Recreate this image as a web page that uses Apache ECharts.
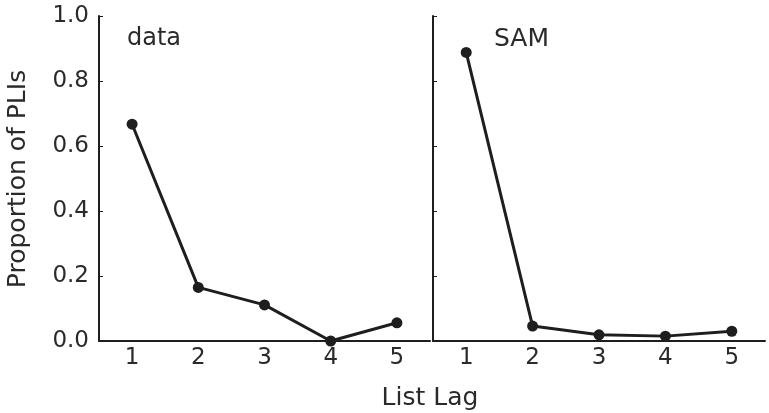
<!DOCTYPE html>
<html>
<head>
<meta charset="utf-8">
<script src="https://cdn.jsdelivr.net/npm/echarts@6/dist/echarts.min.js"></script>
<style>
html,body{margin:0;padding:0;background:#fff;}
#chart{width:769px;height:413px;}
</style>
</head>
<body>
<div id="chart"></div>
<script>
const lags = ['1', '2', '3', '4', '5'];
const dataValues = [0.667, 0.165, 0.111, 0.0, 0.056];
const samValues = [0.888, 0.046, 0.019, 0.015, 0.030];
const yTicks = [0, 0.2, 0.4, 0.6, 0.8, 1.0];
const panelTitles = ['data', 'SAM'];

const FONT = '"DejaVu Sans", "Liberation Sans", Arial, sans-serif';
const INK = '#1e1e1e';
const TXT = '#2a2a2a';

const chart = echarts.init(document.getElementById('chart'), null, {renderer: 'canvas'});

function xAxis(idx) {
  return {
    type: 'category', gridIndex: idx, data: lags, boundaryGap: true,
    axisLine: {lineStyle: {color: INK, width: 2}},
    axisTick: {inside: true, length: 4, alignWithLabel: true, lineStyle: {color: INK, width: 1}},
    axisLabel: {color: TXT, fontSize: 23, fontFamily: FONT, margin: 6},
    splitLine: {show: false}
  };
}
function yAxis(idx, labels) {
  return {
    type: 'value', gridIndex: idx, min: yTicks[0], max: yTicks[yTicks.length - 1], interval: 0.2,
    axisLine: {show: true, lineStyle: {color: INK, width: 2}},
    axisTick: {show: true, inside: true, length: 4, lineStyle: {color: INK, width: 1}},
    axisLabel: {show: labels, color: TXT, fontSize: 23, fontFamily: FONT, margin: 10,
      formatter: v => v.toFixed(1)},
    splitLine: {show: false}
  };
}
function series(idx, values) {
  return {
    type: 'line', xAxisIndex: idx, yAxisIndex: idx, data: values,
    symbol: 'circle', symbolSize: 11, showSymbol: true,
    lineStyle: {color: INK, width: 3},
    itemStyle: {color: INK},
    animation: false
  };
}

chart.setOption({
  animation: false,
  backgroundColor: '#fff',
  grid: [
    {left: 99, top: 16, width: 331, height: 325},
    {left: 433, top: 16, width: 332, height: 325}
  ],
  xAxis: [xAxis(0), xAxis(1)],
  yAxis: [yAxis(0, true), yAxis(1, false)],
  series: [series(0, dataValues), series(1, samValues)],
  graphic: [
    {type: 'text', left: 127, top: 27, style: {text: panelTitles[0], fill: TXT, font: '24px ' + FONT}},
    {type: 'text', left: 494, top: 27, style: {text: panelTitles[1], fill: TXT, font: '25px ' + FONT}},
    {type: 'text', x: 430, y: 398, style: {text: 'List Lag', fill: TXT, font: '25px ' + FONT, align: 'center', verticalAlign: 'middle'}},
    {type: 'text', x: 18, y: 179, rotation: Math.PI / 2, style: {text: 'Proportion of PLIs', fill: TXT, font: '25px ' + FONT, align: 'center', verticalAlign: 'middle'}}
  ]
});
</script>
</body>
</html>
